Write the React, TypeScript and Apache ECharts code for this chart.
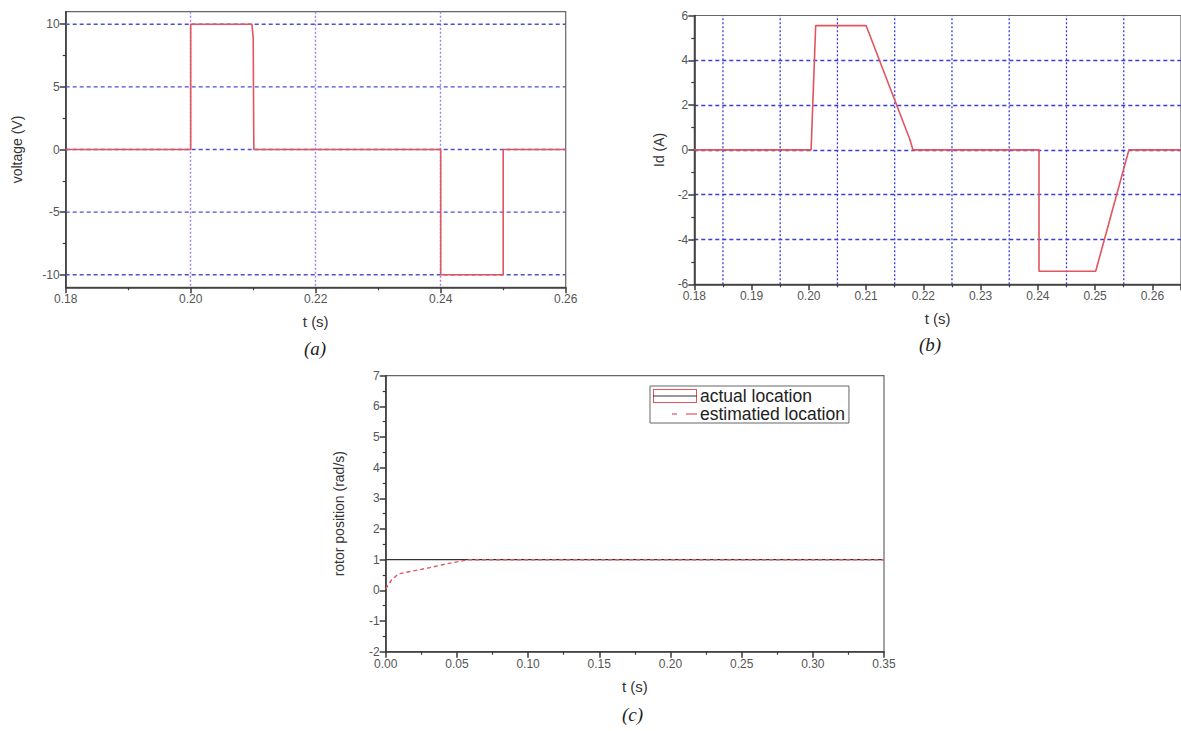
import React, { useEffect, useRef } from "react";
import * as echarts from "echarts";

// Panel (a): voltage
const tA = [0.18, 0.2, 0.2, 0.2098, 0.21, 0.2101, 0.24, 0.24, 0.25, 0.25, 0.26];
const vA = [0, 0, 10, 10, 8.9, 0, 0, -10, -10, 0, 0];
const yTicksA = [-10, -5, 0, 5, 10];
const yMinorA = [-7.5, -2.5, 2.5, 7.5];

// Panel (b): Id
const tB = [0.18, 0.2004, 0.2012, 0.21, 0.2176, 0.2182, 0.2402, 0.2402, 0.2501, 0.2551, 0.2559, 0.265];
const iB = [0, 0, 5.55, 5.55, 0.5, 0, 0, -5.42, -5.42, -0.75, 0, 0];
const xGridB = [0.185, 0.195, 0.205, 0.215, 0.225, 0.235, 0.245, 0.255];

// Panel (c): rotor position
const tActual = [0, 0.35];
const actual = [1, 1];
const tEst = [0, 0.004, 0.009, 0.019, 0.031, 0.043, 0.054, 0.058, 0.35];
const est = [0.05, 0.33, 0.54, 0.63, 0.74, 0.87, 0.96, 1, 1];

const legendNames = ["actual location", "estimatied location"];

const RED = "#e2545e";
const SANS = 'Arial, "Liberation Sans", sans-serif';
const SERIF = '"Times New Roman", "Liberation Serif", serif';
const AXIS = "#3a3a3a";
const LABEL = "#555";

const zip = (xs: number[], ys: number[]) => xs.map((x, i) => [x, ys[i]]);

const svgIcon = (body: string) =>
  "image://data:image/svg+xml;charset=utf-8," +
  encodeURIComponent(
    `<svg xmlns='http://www.w3.org/2000/svg' width='44' height='14' viewBox='0 0 44 14'>${body}</svg>`
  );

const iconActual = svgIcon(
  `<rect x='0.5' y='0.5' width='43' height='13' fill='none' stroke='${RED}' stroke-width='1'/><line x1='0' y1='7' x2='44' y2='7' stroke='#333' stroke-width='1.2'/>`
);
const iconEst = svgIcon(
  `<line x1='19' y1='7' x2='24' y2='7' stroke='${RED}' stroke-width='1.2'/><line x1='33' y1='7' x2='44' y2='7' stroke='${RED}' stroke-width='1.2'/>`
);

const axisBase = {
  axisLine: { show: true, onZero: false, lineStyle: { color: AXIS, width: 1.6 } },
  axisTick: { show: true, length: 6, lineStyle: { color: AXIS, width: 1.5 } },
  minorTick: { show: true, splitNumber: 2, length: 3, lineStyle: { color: AXIS, width: 1.2 } },
  axisLabel: { color: LABEL, fontSize: 12, fontFamily: SANS, margin: 6 },
  nameTextStyle: { color: "#333", fontFamily: SANS, fontSize: 14 },
};

// gridline helper: a plain line series through the axes
const gridSeries = (
  name: string,
  xi: number,
  yi: number,
  pts: number[][],
  color: string,
  dash: number[]
) => ({
  name,
  type: "line",
  xAxisIndex: xi,
  yAxisIndex: yi,
  data: pts,
  showSymbol: false,
  symbol: "none",
  silent: true,
  lineStyle: { color, width: 1.3, type: dash },
  z: 1,
});

export default function App() {
  const ref = useRef<HTMLDivElement>(null);

  useEffect(() => {
    if (!ref.current) return;
    const chart = echarts.init(ref.current, null, { renderer: "svg" });
    const fmt2 = (v: number) => v.toFixed(2);

    const gridA = yTicksA.map((v, i) =>
      gridSeries("gA" + i, 0, 0, [[0.18, v], [0.26, v]], "#4e4ed4", [4, 3])
    );
    const gridB = xGridB.map((v, i) =>
      gridSeries("gB" + i, 1, 2, [[v, -6], [v, 6]], "#3c3cd6", [2, 2])
    );

    const option: any = {
      animation: false,
      backgroundColor: "#fff",
      grid: [
        { left: 65.7, top: 11.7, width: 500, height: 275.6, show: true, borderColor: "#666", borderWidth: 1.2, backgroundColor: "transparent" },
        { left: 694.3, top: 15.5, width: 488, height: 268.8, show: true, borderColor: "#666", borderWidth: 1.2, backgroundColor: "transparent" },
        { left: 385.7, top: 375.7, width: 498.3, height: 276, show: true, borderColor: "#666", borderWidth: 1.2, backgroundColor: "transparent" },
      ],
      xAxis: [
        {
          ...axisBase,
          type: "value",
          gridIndex: 0,
          min: 0.18,
          max: 0.26,
          interval: 0.02,
          name: "t (s)",
          nameLocation: "middle",
          nameGap: 27,
          nameTextStyle: { ...axisBase.nameTextStyle, fontSize: 15 },
          axisLabel: { ...axisBase.axisLabel, formatter: fmt2 },
          splitLine: { show: true, showMinLine: false, showMaxLine: false, lineStyle: { type: [2, 2], color: "#a07fe6", width: 1.4 } },
        },
        {
          ...axisBase,
          type: "value",
          gridIndex: 1,
          min: 0.18,
          max: 0.265,
          interval: 0.01,
          name: "t (s)",
          nameLocation: "middle",
          nameGap: 27,
          nameTextStyle: { ...axisBase.nameTextStyle, fontSize: 15 },
          axisLabel: { ...axisBase.axisLabel, formatter: fmt2, showMaxLabel: false },
          splitLine: { show: false },
        },
        {
          ...axisBase,
          type: "value",
          gridIndex: 2,
          min: 0,
          max: 0.35,
          interval: 0.05,
          name: "t (s)",
          nameLocation: "middle",
          nameGap: 27,
          nameTextStyle: { ...axisBase.nameTextStyle, fontSize: 15 },
          axisLabel: { ...axisBase.axisLabel, formatter: fmt2 },
          splitLine: { show: false },
        },
      ],
      yAxis: [
        {
          ...axisBase,
          type: "value",
          gridIndex: 0,
          position: "left",
          min: -11,
          max: 11,
          name: "voltage (V)",
          nameLocation: "middle",
          nameRotate: 90,
          nameGap: 42,
          minorTick: { show: false },
          axisTick: { ...axisBase.axisTick, customValues: yTicksA },
          axisLabel: { ...axisBase.axisLabel, customValues: yTicksA },
          splitLine: { show: false },
        },
        {
          type: "value",
          gridIndex: 0,
          position: "left",
          offset: 0,
          min: -11,
          max: 11,
          axisLine: { show: false },
          axisTick: { show: true, length: 3, customValues: yMinorA, lineStyle: { color: AXIS, width: 1.2 } },
          axisLabel: { show: false, customValues: yMinorA },
          splitLine: { show: false },
        },
        {
          ...axisBase,
          type: "value",
          gridIndex: 1,
          min: -6,
          max: 6,
          interval: 2,
          name: "Id (A)",
          nameLocation: "middle",
          nameRotate: 90,
          nameGap: 28,
          splitLine: { show: true, showMinLine: false, showMaxLine: false, lineStyle: { type: [4, 3], color: "#3c3cd6", width: 1.3 } },
        },
        {
          ...axisBase,
          type: "value",
          gridIndex: 2,
          min: -2,
          max: 7,
          interval: 1,
          name: "rotor position (rad/s)",
          nameLocation: "middle",
          nameRotate: 90,
          nameGap: 40,
          nameTextStyle: { ...axisBase.nameTextStyle, fontSize: 14 },
          splitLine: { show: false },
        },
      ],
      legend: {
        show: true,
        orient: "vertical",
        left: 650,
        top: 386,
        padding: [1, 4, 0, 3],
        itemGap: 0,
        itemWidth: 44,
        itemHeight: 14,
        borderColor: "#666",
        borderWidth: 1,
        backgroundColor: "#fff",
        textStyle: { fontFamily: SANS, fontSize: 17.5, color: "#222", padding: [0, 0, 0, -2] },
        data: [
          { name: legendNames[0], icon: iconActual },
          { name: legendNames[1], icon: iconEst },
        ],
      },
      series: [
        ...gridA,
        {
          name: "voltage",
          type: "line",
          xAxisIndex: 0,
          yAxisIndex: 0,
          data: zip(tA, vA),
          showSymbol: false,
          lineStyle: { color: RED, width: 1.6 },
          z: 3,
        },
        ...gridB,
        {
          name: "Id",
          type: "line",
          xAxisIndex: 1,
          yAxisIndex: 2,
          data: zip(tB, iB),
          showSymbol: false,
          lineStyle: { color: RED, width: 1.6 },
          z: 3,
        },
        {
          name: legendNames[0],
          type: "line",
          xAxisIndex: 2,
          yAxisIndex: 3,
          data: zip(tActual, actual),
          showSymbol: false,
          lineStyle: { color: "#333", width: 1.2 },
          z: 2,
        },
        {
          name: legendNames[1],
          type: "line",
          xAxisIndex: 2,
          yAxisIndex: 3,
          data: zip(tEst, est),
          showSymbol: false,
          lineStyle: { color: RED, width: 1.4, type: [4, 3] },
          z: 3,
        },
      ],
      graphic: [
        { type: "text", left: 304, top: 339, style: { text: "(a)", font: `italic 19px ${SERIF}`, fill: "#222" } },
        { type: "text", left: 919, top: 335, style: { text: "(b)", font: `italic 19px ${SERIF}`, fill: "#222" } },
        { type: "text", left: 622, top: 705, style: { text: "(c)", font: `italic 19px ${SERIF}`, fill: "#222" } },
      ],
    };

    chart.setOption(option);
    return () => chart.dispose();
  }, []);

  return (
    <div
      ref={ref}
      style={{ position: "fixed", left: 0, top: 0, width: 1181, height: 731, background: "#fff" }}
    />
  );
}
